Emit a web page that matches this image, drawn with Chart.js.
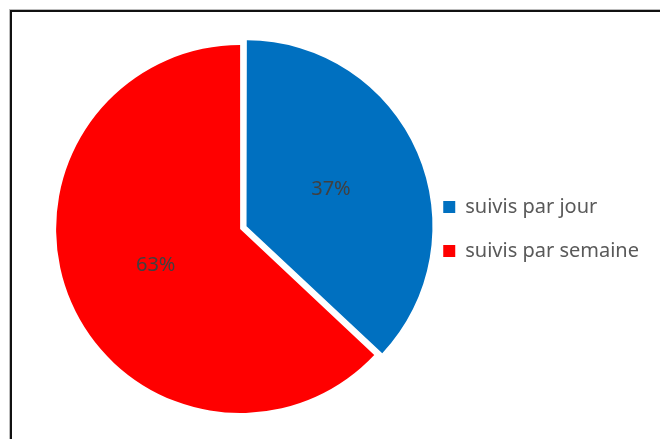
<!DOCTYPE html>
<html lang="fr">
<head>
<meta charset="utf-8">
<title>Suivis</title>
<script src="https://cdn.jsdelivr.net/npm/chart.js@4.4.1/dist/chart.umd.min.js"></script>
<style>
    html, body { margin: 0; padding: 0; background: #fff; }
    #wrap { position: relative; width: 660px; height: 439px; overflow: hidden; }
    #frame {
        position: absolute; left: 10px; top: 10px; right: -10px; bottom: -10px;
        border-top: 2px solid #111; border-left: 2px solid #111;
        box-shadow: -1px -1px 0 #bbb;
        pointer-events: none;
    }
    canvas { position: absolute; left: 0; top: 0; }
</style>
</head>
<body>
<div id="wrap">
    <canvas id="pieChart" width="660" height="439"></canvas>
    <div id="frame"></div>
</div>
<script>
const labels = ['suivis par jour', 'suivis par semaine'];
const shares = [37, 63];
const sliceColors = ['#0070C0', '#FF0000'];
// arc offsets are divided by 4 when drawn, so 28 pulls the slice out by 7px
const sliceOffsets = [28, 0];

Chart.defaults.font.family = '"Noto Sans", sans-serif';

// percentage written halfway along each slice's middle angle
const sliceLabels = {
    id: 'sliceLabels',
    afterDatasetsDraw(chart) {
        const ctx = chart.ctx;
        const meta = chart.getDatasetMeta(0);
        ctx.save();
        ctx.font = '20px "Noto Sans", sans-serif';
        ctx.fillStyle = '#404040';
        ctx.textAlign = 'center';
        ctx.textBaseline = 'middle';
        meta.data.forEach((arc, i) => {
            const mid = (arc.startAngle + arc.endAngle) / 2;
            const dist = arc.outerRadius / 2 + (arc.options.offset || 0) / 4;
            ctx.fillText(shares[i] + '%', arc.x + Math.cos(mid) * dist, arc.y + Math.sin(mid) * dist);
        });
        ctx.restore();
    }
};

new Chart(document.getElementById('pieChart'), {
    type: 'pie',
    data: {
        labels: labels,
        datasets: [{
            data: shares,
            backgroundColor: sliceColors,
            borderWidth: 0,
            offset: sliceOffsets,
            radius: 184,
            clip: false
        }]
    },
    options: {
        responsive: false,
        animation: false,
        layout: {
            padding: { left: 61, right: 11, top: 45, bottom: 26 }
        },
        plugins: {
            legend: {
                position: 'right',
                align: 'center',
                labels: {
                    color: '#595959',
                    font: { size: 20 },
                    boxWidth: 12,
                    boxHeight: 12,
                    padding: 24
                }
            },
            tooltip: { enabled: false }
        }
    },
    plugins: [sliceLabels]
});
</script>
</body>
</html>
